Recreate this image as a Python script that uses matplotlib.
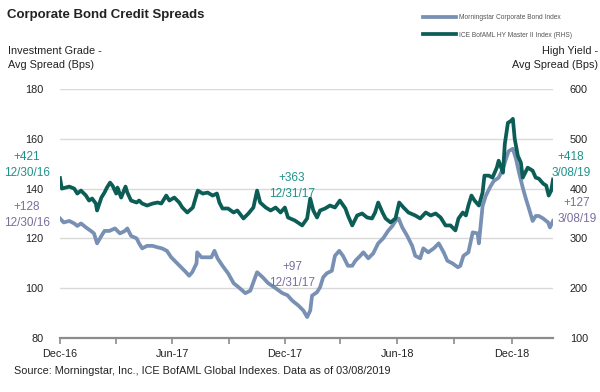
import numpy as np
import pandas as pd
import matplotlib
matplotlib.use('Agg')
from matplotlib import pyplot as plt

# Morningstar Corporate Bond Index (left axis, bps)
ig_dates = ['2016-12-30', '2017-01-05', '2017-01-14', '2017-01-22', '2017-01-27', '2017-02-02',
            '2017-02-10', '2017-02-18', '2017-02-23', '2017-02-28', '2017-03-07', '2017-03-12',
            '2017-03-20', '2017-03-29', '2017-04-06', '2017-04-14', '2017-04-18', '2017-04-24',
            '2017-05-03', '2017-05-07', '2017-05-12', '2017-05-20', '2017-05-29', '2017-06-06',
            '2017-06-13', '2017-06-21', '2017-06-28', '2017-07-06', '2017-07-14', '2017-07-22',
            '2017-07-27', '2017-08-01', '2017-08-08', '2017-08-09', '2017-08-16', '2017-08-24',
            '2017-09-01', '2017-09-06', '2017-09-11', '2017-09-19', '2017-09-28', '2017-10-07',
            '2017-10-15', '2017-10-26', '2017-11-03', '2017-11-08', '2017-11-14', '2017-11-23',
            '2017-12-02', '2017-12-14', '2017-12-25', '2018-01-02', '2018-01-10', '2018-01-20',
            '2018-01-28', '2018-02-03', '2018-02-08', '2018-02-11', '2018-02-19', '2018-02-24',
            '2018-03-01', '2018-03-07', '2018-03-15', '2018-03-20', '2018-03-27', '2018-04-02',
            '2018-04-10', '2018-04-17', '2018-04-22', '2018-04-30', '2018-05-05', '2018-05-13',
            '2018-05-21', '2018-05-29', '2018-06-06', '2018-06-14', '2018-06-21', '2018-06-26',
            '2018-07-01', '2018-07-07', '2018-07-15', '2018-07-23', '2018-07-28', '2018-08-05',
            '2018-08-10', '2018-08-18', '2018-08-27', '2018-09-04', '2018-09-12', '2018-09-18',
            '2018-09-26', '2018-10-05', '2018-10-09', '2018-10-14', '2018-10-22', '2018-10-29',
            '2018-11-06', '2018-11-08', '2018-11-14', '2018-11-19', '2018-11-27', '2018-12-02',
            '2018-12-10', '2018-12-17', '2018-12-22', '2018-12-26', '2019-01-02', '2019-01-07',
            '2019-01-12', '2019-01-18', '2019-01-23', '2019-01-28', '2019-02-03', '2019-02-08',
            '2019-02-13', '2019-02-20', '2019-02-28', '2019-03-03', '2019-03-08']
ig_values = [128, 126.4, 127, 126, 125, 126,
             124.4, 123, 122, 118, 121, 123,
             123, 124, 122, 123, 124, 121,
             120, 118, 116, 117, 117, 116.4,
             116, 115, 112.4, 110.4, 108.4, 106.4,
             105, 106.4, 110, 114.4, 112.4, 112.4,
             112.4, 115, 112, 109, 106, 102,
             100.4, 98, 99, 102.4, 106.4, 104.4,
             102, 100, 98, 97.2, 95, 93,
             91, 88.4, 91, 97, 98.4, 100.4,
             104.4, 106, 107, 113, 115, 113,
             109, 109, 111, 113, 114.4, 112,
             114, 118, 120, 123, 125, 127,
             128, 124.4, 121, 117, 113, 112,
             116, 114.4, 116, 118, 114.4, 111,
             110, 108.4, 109, 113, 114.4, 122.4,
             122, 118, 133, 137, 141, 143,
             144.4, 148, 152, 155, 156, 152,
             146.4, 140.4, 136, 132, 127, 129,
             129, 128, 126.4, 124.4, 127]

# ICE BofAML HY Master II Index (right axis, bps)
hy_dates = ['2016-12-30', '2017-01-02', '2017-01-14', '2017-01-22', '2017-01-27', '2017-02-02',
            '2017-02-10', '2017-02-15', '2017-02-20', '2017-02-26', '2017-02-28', '2017-03-07',
            '2017-03-12', '2017-03-16', '2017-03-21', '2017-03-25', '2017-03-31', '2017-04-02',
            '2017-04-08', '2017-04-15', '2017-04-18', '2017-04-24', '2017-05-03', '2017-05-07',
            '2017-05-12', '2017-05-20', '2017-05-29', '2017-06-06', '2017-06-12', '2017-06-20',
            '2017-06-25', '2017-07-03', '2017-07-11', '2017-07-16', '2017-07-24', '2017-08-02',
            '2017-08-10', '2017-08-18', '2017-08-26', '2017-09-03', '2017-09-10', '2017-09-14',
            '2017-09-19', '2017-09-28', '2017-10-07', '2017-10-13', '2017-10-23', '2017-10-31',
            '2017-11-08', '2017-11-14', '2017-11-19', '2017-11-28', '2017-12-06', '2017-12-14',
            '2017-12-22', '2017-12-29', '2018-01-03', '2018-01-14', '2018-01-26', '2018-02-03',
            '2018-02-08', '2018-02-13', '2018-02-19', '2018-02-24', '2018-03-04', '2018-03-12',
            '2018-03-20', '2018-03-28', '2018-04-06', '2018-04-10', '2018-04-17', '2018-04-25',
            '2018-05-03', '2018-05-11', '2018-05-19', '2018-05-24', '2018-05-29', '2018-06-05',
            '2018-06-10', '2018-06-18', '2018-06-26', '2018-07-02', '2018-07-09', '2018-07-17',
            '2018-07-28', '2018-08-05', '2018-08-14', '2018-08-22', '2018-08-30', '2018-09-07',
            '2018-09-15', '2018-09-23', '2018-10-01', '2018-10-06', '2018-10-13', '2018-10-18',
            '2018-10-22', '2018-10-27', '2018-11-01', '2018-11-08', '2018-11-14', '2018-11-17',
            '2018-11-24', '2018-11-30', '2018-12-07', '2018-12-10', '2018-12-17', '2018-12-20',
            '2018-12-25', '2018-12-30', '2019-01-02', '2019-01-05', '2019-01-10', '2019-01-15',
            '2019-01-18', '2019-01-26', '2019-02-03', '2019-02-08', '2019-02-13', '2019-02-20',
            '2019-02-25', '2019-03-01', '2019-03-05', '2019-03-08']
hy_values = [421, 400, 404, 400, 390, 396,
             386, 376, 380, 370, 356, 382,
             392, 402, 412, 406, 390, 402,
             382, 404, 392, 376, 372, 376,
             370, 366, 370, 372, 370, 386,
             376, 382, 372, 362, 352, 362,
             396, 390, 392, 386, 390, 372,
             360, 360, 352, 356, 340, 350,
             362, 396, 372, 362, 356, 362,
             352, 362, 342, 336, 326, 340,
             380, 356, 342, 356, 360, 366,
             362, 376, 360, 346, 326, 346,
             350, 342, 340, 352, 372, 352,
             340, 332, 340, 372, 362, 352,
             346, 340, 352, 346, 350, 342,
             326, 326, 316, 340, 352, 346,
             366, 386, 376, 366, 392, 426,
             426, 422, 442, 456, 432, 490,
             532, 536, 540, 500, 466, 452,
             422, 442, 436, 422, 420, 410,
             406, 386, 396, 418]

tick_dates = ['2016-12-30', '2017-03-31', '2017-06-30', '2017-09-29', '2017-12-29',
              '2018-03-29', '2018-06-29', '2018-09-28', '2018-12-31']
tick_labels = ['Dec-16', '', 'Jun-17', '', 'Dec-17', '', 'Jun-18', '', 'Dec-18']

ig_color = '#7890b3'
hy_color = '#0c5d56'
ig_text = '#7b6e9e'
hy_text = '#20918a'
grid_color = '#d9d9d9'
dark = '#222222'
plt.rcParams['font.family'] = ['Liberation Sans', 'DejaVu Sans']

fig = plt.figure(figsize=(6, 3.92), dpi=100)
ax = fig.add_axes([0.1, 0.1378, 0.8217, 0.6352])
ax2 = ax.twinx()

ax.plot(pd.to_datetime(ig_dates), ig_values, color=ig_color, lw=2.7, solid_joinstyle='round',
        label='Morningstar Corporate Bond Index')
ax2.plot(pd.to_datetime(hy_dates), hy_values, color=hy_color, lw=2.7, solid_joinstyle='round',
         label='ICE BofAML HY Master II Index (RHS)')

ax.set_ylim(80, 180)
ax2.set_ylim(100, 600)
ax.set_yticks(np.arange(80, 181, 20))
ax2.set_yticks(np.arange(100, 601, 100))
ax.set_xlim(pd.Timestamp('2016-12-30'), pd.Timestamp('2019-03-08'))
for v in range(100, 181, 20):
    ax.axhline(v, color=grid_color, lw=1, zorder=0)

ax.set_xticks(pd.to_datetime(tick_dates))
ax.set_xticklabels(tick_labels)

for a in (ax, ax2):
    for s in ('top', 'left', 'right', 'bottom'):
        a.spines[s].set_visible(False)
ax.spines['bottom'].set_visible(True)
ax.spines['bottom'].set_color('#8c8c8c')
ax.spines['bottom'].set_linewidth(1.6)
ax.tick_params(axis='x', length=4, width=1.2, color='#8c8c8c', labelsize=7.8, pad=4,
               labelcolor=dark)
ax.tick_params(axis='y', length=0, labelsize=7.8, pad=12, labelcolor=dark)
ax2.tick_params(axis='y', length=0, labelsize=7.8, pad=12, labelcolor=dark)

fig.text(0.012, 0.962, 'Corporate Bond Credit Spreads', fontsize=9.5, fontweight='bold',
         color=dark, va='center')
fig.text(0.013, 0.852, 'Investment Grade -\nAvg Spread (Bps)', fontsize=7.8, color=dark,
         va='center', linespacing=1.55)
fig.text(0.997, 0.852, 'High Yield -\nAvg Spread (Bps)', fontsize=7.8, color=dark,
         va='center', ha='right', linespacing=1.55)
fig.text(0.023, 0.053, 'Source: Morningstar, Inc., ICE BofAML Global Indexes. Data as of 03/08/2019',
         fontsize=7.8, color=dark, va='center')

# legend
h1, l1 = ax.get_legend_handles_labels()
h2, l2 = ax2.get_legend_handles_labels()
fig.legend(h1 + h2, l1 + l2, loc='upper left', bbox_to_anchor=(0.695, 0.98), frameon=False,
           fontsize=4.8, handlelength=5.0, handletextpad=0.4, labelspacing=1.6,
           labelcolor='#555555')

# annotations
def note(x, y, s, c):
    fig.text(x / 600, 1 - y / 392, s, color=c, fontsize=8.5, ha='center', va='center',
             linespacing=1.4)

note(27, 165, '+421\n12/30/16', hy_text)
note(27, 215, '+128\n12/30/16', ig_text)
note(292, 186, '+363\n12/31/17', hy_text)
note(292, 275, '+97\n12/31/17', ig_text)
note(571, 165, '+418\n3/08/19', hy_text)
note(577, 211, '+127\n3/08/19', ig_text)

fig.savefig('out.png', dpi=100)
